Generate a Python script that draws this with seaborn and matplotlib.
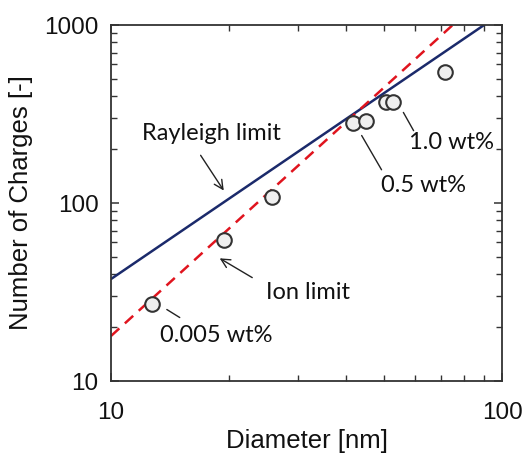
import matplotlib
matplotlib.use("Agg")
import matplotlib.pyplot as plt
from matplotlib.ticker import FixedLocator, FixedFormatter, LogLocator, NullFormatter
import seaborn as sns
import pandas as pd

# measured points
diameter_nm = [12.7, 19.5, 25.8, 41.6, 44.9, 50.5, 52.6, 71.5]
charges = [27.1, 61.9, 108, 281, 289, 369, 369, 544]

# theoretical limits (end points)
rayleigh_d = [10, 90]
rayleigh_n = [37.4, 1000]
ion_d = [10, 74.8]
ion_n = [17.9, 1000]

x_ticks = [10, 100]
x_ticklabels = ["10", "100"]
y_ticks = [10, 100, 1000]
y_ticklabels = ["10", "100", "1000"]

pts = pd.DataFrame({"d": diameter_nm, "n": charges})
ray = pd.DataFrame({"d": rayleigh_d, "n": rayleigh_n})
ion = pd.DataFrame({"d": ion_d, "n": ion_n})

sns.set_style("ticks")
plt.rcParams["font.family"] = ["Liberation Sans", "DejaVu Sans"]
plt.rcParams["text.color"] = "#111111"
plt.rcParams["axes.labelcolor"] = "#111111"
plt.rcParams["xtick.labelcolor"] = "#111111"
plt.rcParams["ytick.labelcolor"] = "#111111"

fig = plt.figure(figsize=(5.24, 4.57), dpi=100)
ax = fig.add_axes([111 / 524, 1 - 381 / 457, 391 / 524, 356 / 457])
ax.set_xscale("log")
ax.set_yscale("log")

sns.lineplot(data=ray, x="d", y="n", ax=ax, color="#1b2a6b", lw=1.8, sort=False)
sns.lineplot(data=ion, x="d", y="n", ax=ax, color="#e0141e", lw=1.8, sort=False,
             linestyle=(0, (4.5, 3)))
sns.scatterplot(data=pts, x="d", y="n", ax=ax, s=110, color="#efefef",
                edgecolor="#333333", linewidth=1.5, zorder=5)

ax.set_xlim(10, 100)
ax.set_ylim(10, 1000)
ax.xaxis.set_major_locator(FixedLocator(x_ticks))
ax.xaxis.set_major_formatter(FixedFormatter(x_ticklabels))
ax.yaxis.set_major_locator(FixedLocator(y_ticks))
ax.yaxis.set_major_formatter(FixedFormatter(y_ticklabels))
ax.xaxis.set_minor_locator(LogLocator(base=10, subs=range(2, 10)))
ax.yaxis.set_minor_locator(LogLocator(base=10, subs=range(2, 10)))
ax.xaxis.set_minor_formatter(NullFormatter())
ax.yaxis.set_minor_formatter(NullFormatter())

ax.tick_params(which="both", direction="in", top=True, right=True, color="#333333")
ax.tick_params(which="major", length=6, width=1.1, labelsize=17.5)
ax.tick_params(which="minor", length=4, width=1.0)
ax.tick_params(axis="x", which="major", pad=15)
ax.tick_params(axis="y", which="major", pad=9)
for sp in ax.spines.values():
    sp.set_color("#333333")
    sp.set_linewidth(1.3)

ax.set_xlabel("Diameter [nm]", fontsize=18.5, labelpad=4)
ax.set_ylabel("Number of Charges [-]", fontsize=18.5, labelpad=8)

afont = dict(family=["Lato", "DejaVu Sans"], fontsize=17, color="#111111")
arrow = dict(arrowstyle="->", color="#222222", lw=1.0, mutation_scale=16)
line = dict(arrowstyle="-", color="#222222", lw=1.0)

ax.annotate("", xy=(19.6, 114), xytext=(16.8, 191), arrowprops=arrow)
ax.text(18.1, 247, "Rayleigh limit", ha="center", va="center", **afont)

ax.annotate("", xy=(18.7, 49.8), xytext=(23.3, 37.4), arrowprops=arrow)
ax.text(31.9, 31.6, "Ion limit", ha="center", va="center", **afont)

ax.annotate("", xy=(13.7, 25.7), xytext=(15.2, 22.3), arrowprops=line)
ax.text(18.6, 18.1, "0.005 wt%", ha="center", va="center", **afont)

ax.annotate("", xy=(43.4, 247), xytext=(49.6, 149), arrowprops=line)
ax.text(62.8, 126, "0.5 wt%", ha="center", va="center", **afont)

ax.annotate("", xy=(55.5, 333), xytext=(59.9, 247), arrowprops=line)
ax.text(74.1, 220, "1.0 wt%", ha="center", va="center", **afont)

fig.savefig("out.png", dpi=100)
